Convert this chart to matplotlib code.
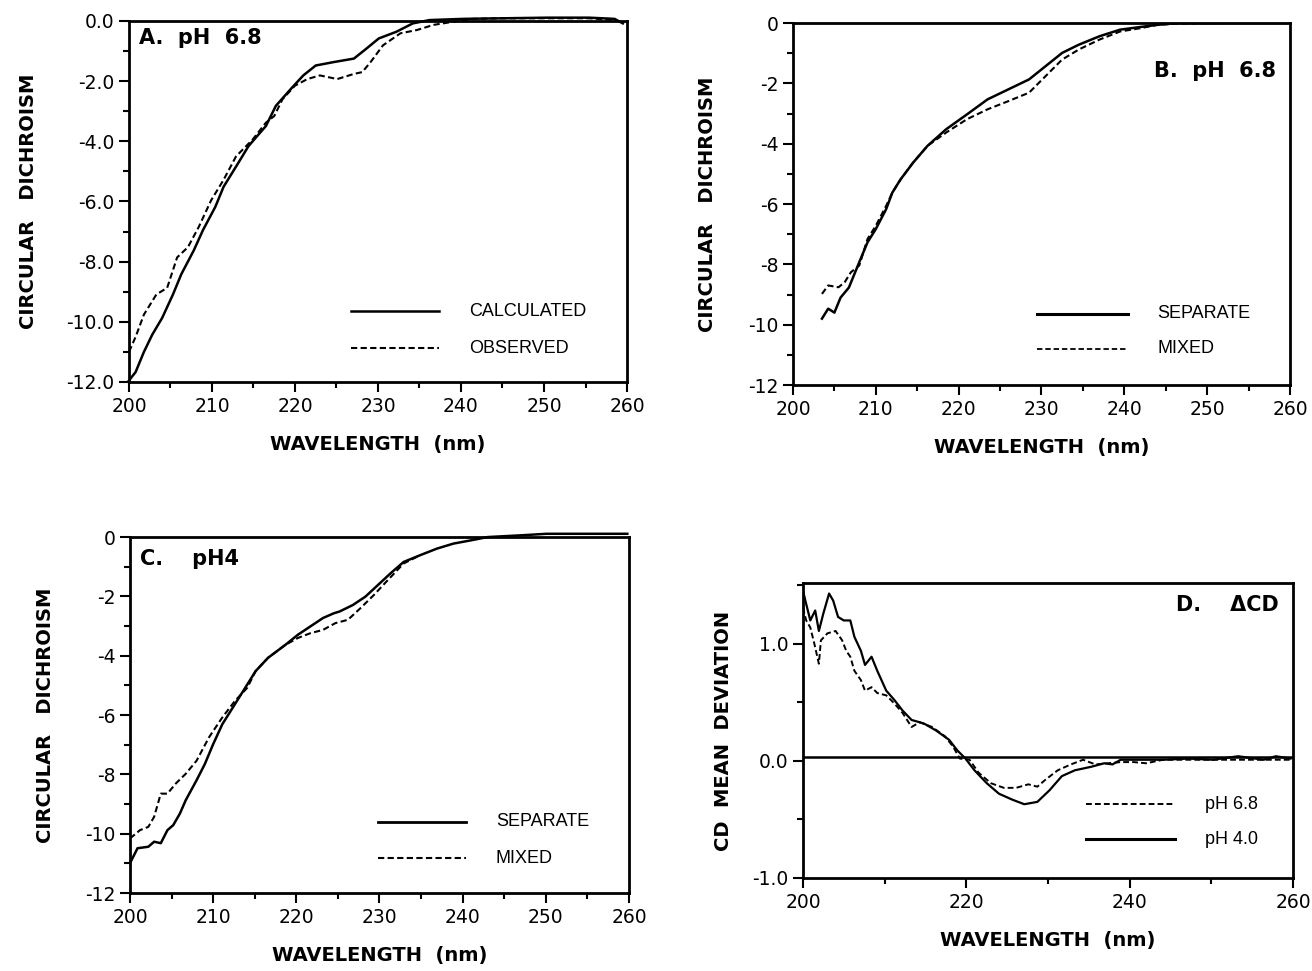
import numpy as np
import matplotlib.pyplot as plt
from matplotlib.ticker import MultipleLocator, FormatStrFormatter

# ---- Panel A: pH 6.8, calculated vs observed ----
a_calc_x = [200, 200.8, 201.8, 202.8, 204.0, 205.3, 206.3, 207.8, 208.9, 210.4, 211.4,
            212.9, 214.4, 216.5, 217.7, 219.5, 221.0, 222.5, 224.6, 227.1, 228.6, 230.1,
            232.2, 234.2, 236.2, 240.3, 245.3, 250.4, 255.4, 258.5, 259.5]
a_calc_y = [-11.95, -11.67, -11.0, -10.43, -9.87, -9.09, -8.42, -7.63, -6.96, -6.18, -5.51,
            -4.84, -4.16, -3.49, -2.82, -2.26, -1.81, -1.48, -1.37, -1.25, -0.92, -0.58,
            -0.36, -0.08, 0.03, 0.07, 0.09, 0.11, 0.11, 0.07, -0.08]
a_obs_x = [200, 200.8, 201.8, 203.3, 204.6, 205.8, 207.1, 208.4, 209.9, 211.4, 212.9,
           214.9, 216.5, 217.5, 218.5, 220.0, 221.5, 223.0, 225.1, 227.1, 228.1, 229.1,
           230.6, 232.7, 234.7, 236.7, 239.2, 241.3, 245.3, 250.4, 255.4, 258.5]
a_obs_y = [-11.0, -10.5, -9.76, -9.09, -8.87, -7.86, -7.52, -6.85, -5.96, -5.28, -4.5,
           -3.94, -3.38, -3.16, -2.6, -2.15, -1.93, -1.81, -1.93, -1.76, -1.7, -1.37,
           -0.81, -0.41, -0.30, -0.13, -0.02, 0.07, 0.09, 0.09, 0.09, 0.03]

# ---- Panel B: pH 6.8, separate vs mixed ----
b_sep_x = [203.5, 204.25, 205.0, 205.75, 206.75, 208.0, 209.0, 210.0, 211.25, 212.0, 213.0,
           214.5, 216.25, 218.5, 221.0, 223.5, 226.0, 228.5, 230.5, 232.5, 234.5, 237.0,
           239.5, 242.0, 244.0, 246.5, 251.5, 256.5, 259.5]
b_sep_y = [-9.8, -9.47, -9.6, -9.1, -8.77, -7.93, -7.27, -6.83, -6.17, -5.62, -5.18,
           -4.63, -4.07, -3.52, -3.03, -2.53, -2.2, -1.87, -1.43, -0.99, -0.72, -0.44,
           -0.22, -0.13, -0.06, 0.0, 0.0, 0.0, 0.0]
b_mix_x = [203.5, 204.25, 205.5, 206.25, 207.0, 208.0, 209.0, 210.0, 211.25, 212.0, 213.0,
           214.5, 216.25, 218.5, 221.0, 223.5, 226.0, 228.5, 230.5, 232.5, 234.5, 237.0,
           239.5, 242.0, 244.0, 246.5, 252.0, 259.5]
b_mix_y = [-8.98, -8.7, -8.76, -8.59, -8.26, -8.04, -7.16, -6.72, -6.06, -5.62, -5.18,
           -4.63, -4.07, -3.63, -3.19, -2.86, -2.59, -2.31, -1.76, -1.21, -0.88, -0.55,
           -0.28, -0.17, -0.06, -0.02, 0.0, 0.0]

# ---- Panel C: pH 4, separate vs mixed ----
c_sep_x = [200, 200.4, 200.9, 202.2, 202.9, 203.7, 204.5, 205.2, 206.0, 206.7, 208.0,
           209.0, 210.0, 211.1, 212.6, 214.1, 215.1, 216.6, 218.7, 220.2, 221.7, 223.2,
           224.5, 225.2, 226.8, 228.3, 229.8, 231.3, 232.9, 234.9, 236.9, 238.9, 241.0,
           243.0, 247.1, 250.1, 255.2, 259.8]
c_sep_y = [-10.99, -10.77, -10.49, -10.44, -10.27, -10.32, -9.88, -9.71, -9.32, -8.87, -8.2,
           -7.65, -6.98, -6.31, -5.64, -4.97, -4.52, -4.07, -3.63, -3.29, -3.01, -2.73,
           -2.57, -2.51, -2.29, -2.01, -1.62, -1.23, -0.84, -0.61, -0.39, -0.22, -0.11,
           0.0, 0.06, 0.11, 0.11, 0.11]
c_mix_x = [200, 201.2, 202.2, 202.9, 203.7, 204.5, 205.5, 206.7, 208.0, 209.5, 211.1,
           212.6, 214.1, 215.1, 216.6, 218.7, 220.2, 221.7, 223.2, 224.7, 226.2, 227.7,
           229.3, 230.8, 232.9, 234.9]
c_mix_y = [-10.16, -9.88, -9.77, -9.43, -8.65, -8.65, -8.31, -7.98, -7.54, -6.75, -6.08,
           -5.53, -5.08, -4.52, -4.07, -3.63, -3.4, -3.24, -3.13, -2.9, -2.79, -2.4,
           -1.96, -1.51, -0.89, -0.61]

# ---- Panel D: delta CD ----
d_ph4_x = [200, 200.4, 200.9, 201.5, 201.95, 202.5, 203.2, 203.7, 204.3, 205.0, 205.8,
           206.3, 207.1, 207.6, 208.4, 209.1, 210.2, 211.2, 212.2, 213.3, 214.8, 216.3,
           217.9, 218.9, 219.9, 221.0, 222.5, 224.0, 225.6, 227.1, 228.7, 230.2, 231.7,
           233.3, 235.3, 236.9, 237.9, 238.9, 241.5, 244.1, 247.2, 250.2, 253.3, 256.4,
           257.9, 259.7]
d_ph4_y = [1.455, 1.34, 1.2, 1.285, 1.11, 1.26, 1.43, 1.37, 1.23, 1.2, 1.2,
           1.06, 0.94, 0.82, 0.89, 0.77, 0.6, 0.52, 0.43, 0.35, 0.32, 0.26,
           0.18, 0.09, 0.02, -0.08, -0.19, -0.28, -0.33, -0.37, -0.35, -0.25, -0.13,
           -0.08, -0.05, -0.02, -0.03, 0.01, 0.01, 0.01, 0.02, 0.01, 0.04, 0.01,
           0.04, 0.02]
d_ph68_x = [200, 200.4, 200.9, 201.4, 201.95, 202.2, 203.0, 204.0, 204.8, 205.3, 205.8,
            206.3, 207.1, 207.6, 208.4, 209.1, 210.2, 211.2, 212.2, 213.3, 214.3, 215.8,
            217.4, 218.4, 219.2, 220.4, 221.5, 223.0, 224.6, 226.1, 227.6, 228.7, 229.7,
            231.2, 232.8, 234.3, 235.8, 237.4, 238.9, 240.5, 242.0, 244.1, 250.0, 255.0,
            259.7]
d_ph68_y = [1.31, 1.2, 1.14, 1.0, 0.83, 1.03, 1.09, 1.11, 1.03, 0.94, 0.89,
            0.77, 0.69, 0.6, 0.63, 0.58, 0.56, 0.49, 0.41, 0.29, 0.33, 0.29,
            0.21, 0.12, 0.02, 0.01, -0.1, -0.19, -0.23, -0.23, -0.2, -0.22, -0.16,
            -0.08, -0.03, 0.01, -0.03, -0.02, -0.01, -0.01, -0.02, 0.01, 0.01, 0.01,
            0.01]

DASH = (0, (3, 1.6))
AXFONT = dict(fontsize=14, fontweight='bold', family='DejaVu Sans')
LEGFONT = dict(fontsize=13, family='Liberation Sans')

fig = plt.figure(figsize=(13.12, 9.71), dpi=100)
axA = fig.add_axes([0.0983, 0.6066, 0.3796, 0.3718])
axB = fig.add_axes([0.6044, 0.6035, 0.3788, 0.3728])
axC = fig.add_axes([0.0991, 0.0803, 0.3803, 0.3666])
axD = fig.add_axes([0.6120, 0.0958, 0.3735, 0.3038])


def style(ax, ymajor, yminor, xmajor, xminor, fmt):
    ax.xaxis.set_major_locator(MultipleLocator(xmajor))
    ax.xaxis.set_minor_locator(MultipleLocator(xminor))
    ax.yaxis.set_major_locator(MultipleLocator(ymajor))
    ax.yaxis.set_minor_locator(MultipleLocator(yminor))
    ax.yaxis.set_major_formatter(FormatStrFormatter(fmt))
    ax.tick_params(which='major', direction='out', length=7, width=1.5, labelsize=13.5)
    ax.tick_params(which='minor', direction='out', length=4, width=1.5)
    for s in ax.spines.values():
        s.set_linewidth(2)
    ax.set_xlabel('WAVELENGTH  (nm)', labelpad=14, **AXFONT)


def legend_row(ax, x0, x1, xt, y, text, ls, lw):
    ax.plot([x0, x1], [y, y], color='black', ls=ls, lw=lw)
    ax.text(xt, y, text, va='center', ha='left', **LEGFONT)


# Panel A
axA.plot(a_calc_x, a_calc_y, color='black', lw=1.8, clip_on=False)
axA.plot(a_obs_x, a_obs_y, color='black', lw=1.5, ls=DASH, clip_on=False)
axA.set_xlim(200, 260)
axA.set_ylim(-12, 0)
style(axA, 2, 1, 10, 5, '%.1f')
axA.set_ylabel('CIRCULAR   DICHROISM', labelpad=20, **AXFONT)
axA.text(201.2, -0.55, 'A.  pH  6.8', fontsize=15, fontweight='bold', va='center')
legend_row(axA, 226.8, 237.4, 241.0, -9.65, 'CALCULATED', '-', 1.8)
legend_row(axA, 226.8, 237.4, 241.0, -10.88, 'OBSERVED', DASH, 1.5)

# Panel B
axB.plot(b_sep_x, b_sep_y, color='black', lw=1.8)
axB.plot(b_mix_x, b_mix_y, color='black', lw=1.5, ls=DASH)
axB.set_xlim(200, 260)
axB.set_ylim(-12, 0)
style(axB, 2, 1, 10, 5, '%d')
axB.set_ylabel('CIRCULAR   DICHROISM', labelpad=22, **AXFONT)
axB.text(258.3, -1.6, 'B.  pH  6.8', fontsize=15, fontweight='bold', va='center', ha='right')
legend_row(axB, 229.5, 240.5, 244.0, -9.64, 'SEPARATE', '-', 2.2)
legend_row(axB, 229.5, 240.5, 244.0, -10.79, 'MIXED', DASH, 1.3)

# Panel C
axC.plot(c_sep_x, c_sep_y, color='black', lw=1.8, clip_on=False)
axC.plot(c_mix_x, c_mix_y, color='black', lw=1.5, ls=DASH)
axC.set_xlim(200, 260)
axC.set_ylim(-12, 0)
style(axC, 2, 1, 10, 5, '%d')
axC.set_ylabel('CIRCULAR   DICHROISM', labelpad=22, **AXFONT)
axC.text(201.2, -0.75, 'C.    pH4', fontsize=15, fontweight='bold', va='center')
legend_row(axC, 229.8, 240.4, 244.0, -9.6, 'SEPARATE', '-', 2.0)
legend_row(axC, 229.8, 240.4, 244.0, -10.83, 'MIXED', DASH, 1.5)

# Panel D
axD.axhline(0.03, color='black', lw=1.8)
axD.plot(d_ph4_x, d_ph4_y, color='black', lw=1.6)
axD.plot(d_ph68_x, d_ph68_y, color='black', lw=1.4, ls=DASH)
axD.set_xlim(200, 260)
axD.set_ylim(-1.0, 1.52)
style(axD, 1, 0.5, 20, 10, '%.1f')
axD.set_ylabel('CD  MEAN  DEVIATION', labelpad=14, **AXFONT)
axD.text(258.2, 1.33, 'D.    \u0394CD', fontsize=15, fontweight='bold', va='center', ha='right')
legend_row(axD, 234.6, 245.6, 249.2, -0.37, 'pH 6.8', DASH, 1.4)
legend_row(axD, 234.6, 245.6, 249.2, -0.67, 'pH 4.0', '-', 2.2)

fig.savefig('out.png', dpi=100)
